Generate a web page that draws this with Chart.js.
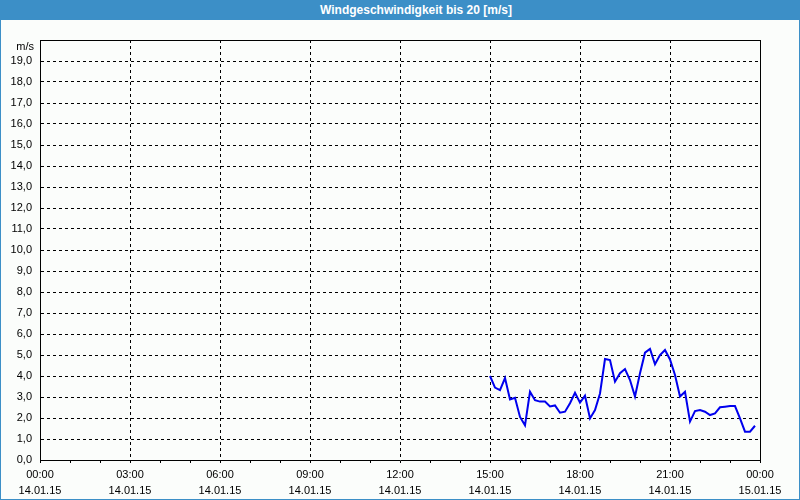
<!DOCTYPE html>
<html>
<head>
<meta charset="utf-8">
<script src="https://cdn.jsdelivr.net/npm/chart.js@4.4.1/dist/chart.umd.min.js"></script>
<style>
    body { margin: 0; background: #fbfdfb; }
    #wrap { position: relative; width: 800px; height: 500px; background: #fbfdfb; overflow: hidden; }
    #title-bar {
        position: absolute; left: 0; top: 0; width: 800px; height: 20px;
        background: #3c8fc7; color: #fff;
        font: bold 12px "Liberation Sans", Arial, sans-serif;
    }
    #title-bar span { position: absolute; left: 320px; top: 3px; }
    #chart { position: absolute; left: 0; top: 20px; }
    #frame {
        position: absolute; left: 0; top: 0; width: 800px; height: 500px;
        box-sizing: border-box; border: 1px solid #3c8fc7; pointer-events: none;
    }
</style>
</head>
<body>
<div id="wrap">
    <div id="title-bar"><span>Windgeschwindigkeit bis 20 [m/s]</span></div>
    <canvas id="chart" width="800" height="480"></canvas>
    <div id="frame"></div>
</div>
<script>
// Messzeitpunkte am 14.01.15 (10-Minuten-Werte)
const times = [
    '15:00', '15:10', '15:20', '15:30', '15:40', '15:50',
    '16:00', '16:10', '16:20', '16:30', '16:40', '16:50',
    '17:00', '17:10', '17:20', '17:30', '17:40', '17:50',
    '18:00', '18:10', '18:20', '18:30', '18:40', '18:50',
    '19:00', '19:10', '19:20', '19:30', '19:40', '19:50',
    '20:00', '20:10', '20:20', '20:30', '20:40', '20:50',
    '21:00', '21:10', '21:20', '21:30', '21:40', '21:50',
    '22:00', '22:10', '22:20', '22:30', '22:40', '22:50',
    '23:00', '23:10', '23:20', '23:30', '23:40', '23:50'
];
const windSpeed = [
    4.00, 3.45, 3.33, 3.90, 2.88, 2.96,
    2.05, 1.65, 3.25, 2.85, 2.78, 2.78,
    2.55, 2.60, 2.25, 2.30, 2.70, 3.20,
    2.73, 3.06, 1.98, 2.38, 3.17, 4.81,
    4.76, 3.73, 4.13, 4.33, 3.81, 3.02,
    4.13, 5.11, 5.29, 4.56, 5.00, 5.24,
    4.79, 4.05, 3.02, 3.25, 1.83, 2.33,
    2.38, 2.30, 2.14, 2.22, 2.51, 2.54,
    2.57, 2.57, 1.98, 1.35, 1.35, 1.63
];
const hourLabels = ['00:00', '03:00', '06:00', '09:00', '12:00', '15:00', '18:00', '21:00', '00:00'];
const dateLabels = ['14.01.15', '14.01.15', '14.01.15', '14.01.15', '14.01.15', '14.01.15', '14.01.15', '14.01.15', '15.01.15'];
const unitLabel = 'm/s';

const toMinutes = (t) => {
    const [h, m] = t.split(':');
    return parseInt(h) * 60 + parseInt(m);
};

const font = { family: '"Liberation Sans", Arial, sans-serif', size: 11 };

// Rahmen um den Plotbereich + Einheit oben links
const framePlugin = {
    id: 'framePlugin',
    afterDraw: (chart) => {
        const { ctx, chartArea: a } = chart;
        ctx.save();
        ctx.strokeStyle = '#000';
        ctx.lineWidth = 1;
        ctx.beginPath();
        ctx.moveTo(a.left + 0.5, a.top + 0.5);
        ctx.lineTo(a.right + 0.5, a.top + 0.5);
        ctx.lineTo(a.right + 0.5, a.bottom + 0.5);
        ctx.stroke();
        ctx.fillStyle = '#000';
        ctx.font = '11px ' + font.family;
        ctx.textAlign = 'right';
        ctx.textBaseline = 'middle';
        ctx.fillText(unitLabel, a.left - 6, a.top + 7);
        ctx.restore();
    }
};

new Chart(document.getElementById('chart').getContext('2d'), {
    type: 'line',
    data: {
        datasets: [{
            label: 'Windgeschwindigkeit',
            data: times.map((t, i) => ({ x: toMinutes(t), y: windSpeed[i] })),
            borderColor: '#0000ee',
            borderWidth: 2,
            pointRadius: 0,
            tension: 0,
            fill: false
        }]
    },
    options: {
        responsive: false,
        animation: false,
        events: [],
        layout: { padding: { top: 20, right: 40, left: 0, bottom: 0 } },
        plugins: {
            legend: { display: false },
            tooltip: { enabled: false },
            title: { display: false }
        },
        scales: {
            x: {
                type: 'linear',
                min: 0,
                max: 1440,
                afterFit: (scale) => { scale.height = 40; },
                afterBuildTicks: (scale) => {
                    const ticks = [];
                    for (let h = 0; h <= 24; h++) ticks.push({ value: h * 60 });
                    scale.ticks = ticks;
                },
                ticks: {
                    autoSkip: false,
                    maxRotation: 0,
                    padding: 4,
                    color: '#000',
                    font: { ...font, lineHeight: 1.45 },
                    callback: (value) => {
                        if (value % 180 !== 0) return '';
                        const i = value / 180;
                        return [hourLabels[i], dateLabels[i]];
                    }
                },
                grid: {
                    color: (ctx) => (ctx.tick && ctx.tick.value % 180 === 0) ? '#000' : 'rgba(0,0,0,0)',
                    tickColor: '#000',
                    tickLength: 3,
                    lineWidth: 1
                },
                border: { color: '#000', width: 1, dash: [3, 3] }
            },
            y: {
                min: 0,
                max: 20,
                afterFit: (scale) => { scale.width = 40; },
                ticks: {
                    stepSize: 1,
                    padding: 8,
                    color: '#000',
                    font: font,
                    callback: (value) => value >= 20 ? '' : value.toFixed(1).replace('.', ',')
                },
                grid: {
                    color: '#000',
                    lineWidth: 1,
                    drawTicks: false
                },
                border: { color: '#000', width: 1, dash: [3, 3] }
            }
        }
    },
    plugins: [framePlugin]
});
</script>
</body>
</html>
